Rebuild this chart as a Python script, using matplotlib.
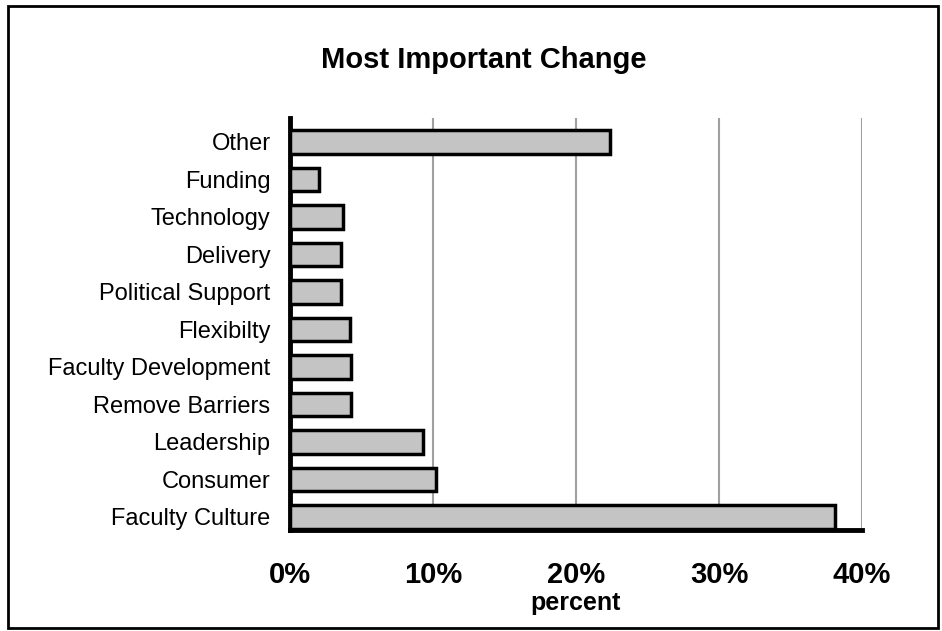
import numpy as np
import matplotlib.pyplot as plt
from matplotlib.patches import Rectangle

# data (bottom to top)
categories = ['Faculty Culture', 'Consumer', 'Leadership', 'Remove Barriers',
              'Faculty Development', 'Flexibilty', 'Political Support',
              'Delivery', 'Technology', 'Funding', 'Other']
percent = [38.1, 10.2, 9.3, 4.3, 4.3, 4.2, 3.6, 3.6, 3.7, 2.0, 22.4]
x_ticks = [0, 10, 20, 30, 40]
x_tick_labels = ['0%', '10%', '20%', '30%', '40%']

plt.rcParams['font.family'] = ['Liberation Sans', 'DejaVu Sans']

fig = plt.figure(figsize=(9.42, 6.31), dpi=100)
ax = fig.add_axes([290 / 942, 1 - 530 / 631, (862 - 290) / 942, (530 - 118) / 631])

y = np.arange(len(categories))
ax.barh(y, percent, height=0.62, color='#c4c4c4', edgecolor='black',
        linewidth=2.5, zorder=3)

ax.set_xlim(0, 40)
ax.set_ylim(-0.35, 10.64)
ax.set_xticks(x_ticks)
ax.set_xticklabels(x_tick_labels, fontsize=21, fontweight='bold')
ax.set_yticks(y)
ax.set_yticklabels(categories, fontsize=17)
ax.tick_params(axis='both', length=0)
ax.tick_params(axis='y', pad=14)
ax.tick_params(axis='x', pad=22)

ax.xaxis.grid(True, color='#a0a0a0', linestyle='-', linewidth=1.5, zorder=0)
ax.set_axisbelow(True)

for s in ['top', 'right']:
    ax.spines[s].set_visible(False)
ax.spines['left'].set_linewidth(3.5)
ax.spines['bottom'].set_linewidth(3.5)

ax.set_xlabel('percent', fontsize=18, fontweight='bold', labelpad=2)

fig.text(484 / 942, 1 - 60 / 631, 'Most Important Change', ha='center',
         va='center', fontsize=21, fontweight='bold')

# outer frame
fig.patches.append(Rectangle((8 / 942, 3 / 631), 930 / 942, 622 / 631,
                             transform=fig.transFigure, fill=False,
                             edgecolor='black', linewidth=2))

fig.savefig('out.png', dpi=100)
